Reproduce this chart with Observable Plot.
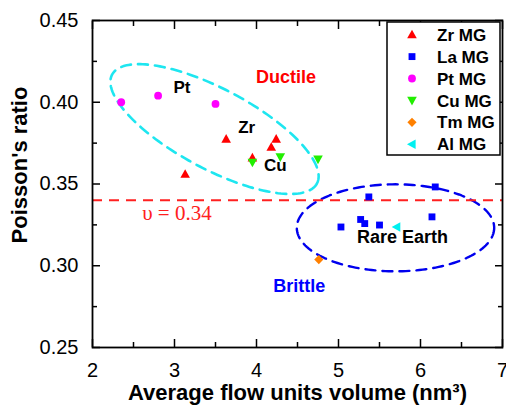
<!DOCTYPE html>
<html><head><meta charset="utf-8">
<script src="https://cdn.jsdelivr.net/npm/d3@7"></script>
<script src="https://cdn.jsdelivr.net/npm/@observablehq/plot@0.6"></script>
<style>
body{margin:0;background:#fff;}
#chart{position:relative;width:506px;height:406px;}
</style>
</head><body><div id="chart"></div>
<script>
// ---------- data ----------
const seriesNames = ["Zr MG", "La MG", "Pt MG", "Cu MG", "Tm MG", "Al MG"];
const zrX = [3.13, 3.63, 4.18, 4.24, 3.95];
const zrY = [0.356, 0.3775, 0.3725, 0.3775, 0.366];
const laX = [5.03, 5.27, 5.32, 5.37, 5.50, 6.14, 6.18];
const laY = [0.3237, 0.3283, 0.3258, 0.3421, 0.3249, 0.3299, 0.3482];
const ptX = [2.35, 2.80, 3.50];
const ptY = [0.400, 0.404, 0.399];
const cuX = [3.95, 4.29, 4.75];
const cuY = [0.3633, 0.3666, 0.3652];
const tmX = [4.76];
const tmY = [0.3038];
const alX = [5.71];
const alY = [0.3237];
const xTicks = [2, 3, 4, 5, 6, 7];
const xMinor = [2.5, 3.5, 4.5, 5.5, 6.5];
const yTicks = [0.25, 0.30, 0.35, 0.40, 0.45];
const yMinor = [0.275, 0.325, 0.375, 0.425];
const threshold = [0.34];
const thresholdLabel = "\u03C5 = 0.34";
const annoText = ["Ductile", "Brittle", "Pt", "Zr", "Cu", "Rare Earth"];
const annoX = [4.36, 4.52, 3.09, 3.88, 4.23, 5.78];
const annoY = [0.4154, 0.2874, 0.4091, 0.3844, 0.3615, 0.3176];
const xLabel = "Average flow units volume (nm\u00B3)";
const yLabel = "Poisson's ratio";

// ---------- layout ----------
const W = 506, H = 406, mL = 92, mT = 20, mR = 4, mB = 59;
const xDomain = [2, 7], yDomain = [0.25, 0.45];
const font = "Liberation Sans, Arial, Helvetica, sans-serif";

// ---------- symbols ----------
const poly = pts => ({draw(ctx, size) {
  const r = Math.sqrt(size / Math.PI);
  ctx.moveTo(pts[0][0] * r, pts[0][1] * r);
  for (let i = 1; i < pts.length; ++i) ctx.lineTo(pts[i][0] * r, pts[i][1] * r);
  ctx.closePath();
}});
const symUp = poly([[0, -1.05], [1, 0.75], [-1, 0.75]]);
const symDown = poly([[0, 1.05], [1, -0.75], [-1, -0.75]]);
const symLeft = poly([[-1.05, 0], [0.75, -1], [0.75, 1]]);
const symSquare = poly([[-0.78, -0.78], [0.78, -0.78], [0.78, 0.78], [-0.78, 0.78]]);
const symDiamond = poly([[0, -1], [1, 0], [0, 1], [-1, 0]]);
const symCircle = {draw(ctx, size) { const r = Math.sqrt(size / Math.PI) * 0.85; ctx.moveTo(r, 0); ctx.arc(0, 0, r, 0, 2 * Math.PI); }};

const styles = {
  "Zr MG": {sym: symUp, color: "#ff0000", r: 4.8},
  "La MG": {sym: symSquare, color: "#0000ff", r: 4.4},
  "Pt MG": {sym: symCircle, color: "#ff00ff", r: 4.6},
  "Cu MG": {sym: symDown, color: "#22ee00", r: 4.8},
  "Tm MG": {sym: symDiamond, color: "#ff8000", r: 4.6},
  "Al MG": {sym: symLeft, color: "#00f0f0", r: 4.8}
};
const seriesXY = {
  "Zr MG": [zrX, zrY], "La MG": [laX, laY], "Pt MG": [ptX, ptY],
  "Cu MG": [cuX, cuY], "Tm MG": [tmX, tmY], "Al MG": [alX, alY]
};
const points = s => seriesXY[s][0].map((x, i) => ({x, y: seriesXY[s][1][i]}));

// ellipse outlines (annotation shapes): centre in data units, semi-axes in px
function ellipse(cx, cy, a, b, deg) {
  const kx = (W - mL - mR) / (xDomain[1] - xDomain[0]);
  const ky = (H - mT - mB) / (yDomain[1] - yDomain[0]);
  const th = deg * Math.PI / 180;
  return d3.range(0, 362, 2).map(t => {
    const u = t * Math.PI / 180;
    const px = a * Math.cos(u) * Math.cos(th) - b * Math.sin(u) * Math.sin(th);
    const py = a * Math.cos(u) * Math.sin(th) + b * Math.sin(u) * Math.cos(th);
    return {x: cx + px / kx, y: cy - py / ky};
  });
}
const cyanEllipse = ellipse(3.488, 0.3836, 116, 40, 28);
const blueEllipse = ellipse(5.695, 0.3232, 98.7, 43.5, 0);

const annoColor = ["#ff0000", "#0000ff", "#000", "#000", "#000", "#000"];
const annoSize = [18, 18, 17, 17, 17, 18];
const annos = annoText.map((t, i) => ({t, x: annoX[i], y: annoY[i], c: annoColor[i], s: annoSize[i]}));

const axisCommon = {strokeWidth: 1.5, label: null};
const marks = [
  Plot.line(cyanEllipse, {x: "x", y: "y", stroke: "#1ee6f0", strokeWidth: 2.6, strokeDasharray: "10,7", curve: "linear"}),
  Plot.line(blueEllipse, {x: "x", y: "y", stroke: "#0000ee", strokeWidth: 2.4, strokeDasharray: "10,7", curve: "linear"}),
  Plot.ruleY(threshold, {stroke: "#ff2020", strokeWidth: 2, strokeDasharray: "10,7"}),
  Plot.text([thresholdLabel], {x: 3.03, y: 0.3321, fill: "#ff2020", fontSize: 21, fontFamily: "Liberation Serif, Times New Roman, serif"}),
  ...seriesNames.map(s => Plot.dot(points(s), {x: "x", y: "y", symbol: styles[s].sym, fill: styles[s].color, stroke: "none", r: styles[s].r})),
  Plot.text(annos, {x: "x", y: "y", text: "t", fill: "c", fontSize: "s", fontWeight: "bold", fontFamily: font}),
  // ticks (inward) on all four sides
  ...["bottom", "top"].flatMap(anchor => [
    Plot.axisX(xTicks, {anchor, tickSize: -8, fill: "none", ...axisCommon}),
    Plot.axisX(xMinor, {anchor, tickSize: -5, fill: "none", ...axisCommon})
  ]),
  ...["left", "right"].flatMap(anchor => [
    Plot.axisY(yTicks, {anchor, tickSize: -8, fill: "none", ...axisCommon}),
    Plot.axisY(yMinor, {anchor, tickSize: -5, fill: "none", ...axisCommon})
  ]),
  Plot.axisX(xTicks, {anchor: "bottom", tickSize: 0, tickPadding: 15, tickFormat: d3.format("d"), fontSize: 20, fontFamily: font, label: null}),
  Plot.axisY(yTicks, {anchor: "left", tickSize: 0, tickPadding: 14, tickFormat: d3.format(".2f"), fontSize: 20, fontFamily: font, label: null}),
  Plot.frame({stroke: "#000", strokeWidth: 1.8}),
  Plot.text([xLabel], {frameAnchor: "bottom", textAnchor: "middle", lineAnchor: "middle", dy: 45, fontSize: 22, fontWeight: "bold", fontFamily: font, fill: "#000"}),
  Plot.text([yLabel], {frameAnchor: "left", textAnchor: "middle", lineAnchor: "middle", dx: -73, dy: -19, rotate: -90, fontSize: 22, fontWeight: "bold", fontFamily: font, fill: "#000"})
];

const plot = Plot.plot({
  width: W, height: H,
  marginLeft: mL, marginTop: mT, marginRight: mR, marginBottom: mB,
  x: {domain: xDomain, axis: null},
  y: {domain: yDomain, axis: null},
  style: {fontFamily: font, background: "#fff", color: "#000", overflow: "visible"},
  marks
});
document.getElementById("chart").appendChild(plot);

// ---------- legend (inside plot, upper right) ----------
const svg = d3.select(plot.tagName === "svg" ? plot : plot.querySelector("svg"));
const lg = svg.append("g").attr("transform", "translate(387,22)");
lg.append("rect").attr("width", 113).attr("height", 133)
  .attr("fill", "#fff").attr("stroke", "#000").attr("stroke-width", 1.5);
seriesNames.forEach((s, i) => {
  const yy = 12.7 + i * 21.9;
  const st = styles[s];
  lg.append("path")
    .attr("d", d3.symbol(st.sym, st.r * st.r * Math.PI)())
    .attr("transform", `translate(25,${yy})`)
    .attr("fill", st.color);
  lg.append("text").attr("x", 50).attr("y", yy).attr("dy", "0.36em")
    .attr("text-anchor", "start")
    .attr("font-family", font).attr("font-weight", "bold").attr("font-size", 17)
    .attr("fill", "#000").text(s);
});
</script></body></html>
